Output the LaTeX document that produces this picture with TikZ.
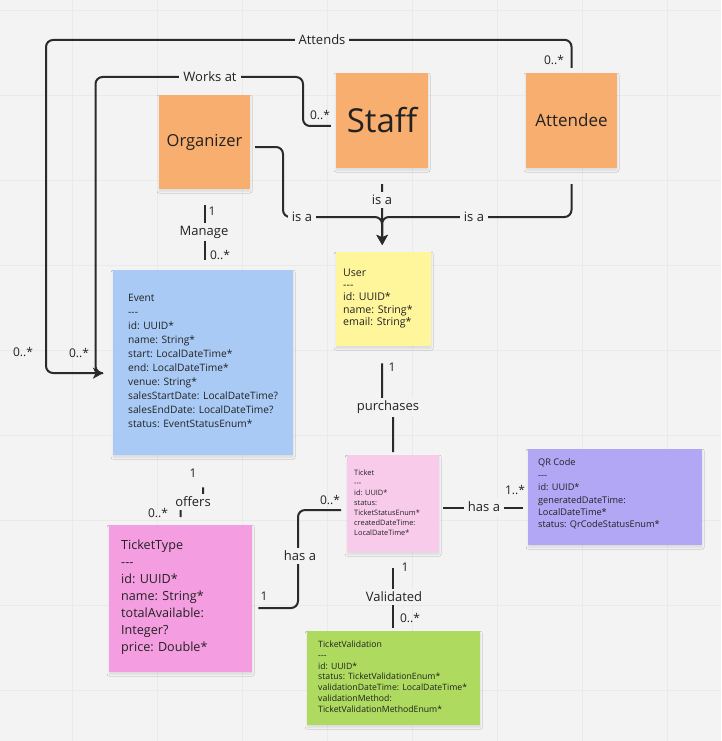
\documentclass[tikz,border=0pt]{standalone}
\usepackage{fontspec}
\setmainfont{Open Sans}
\usetikzlibrary{calc,arrows.meta,shadows.blur}
\definecolor{bg}{HTML}{F3F3F3}
\definecolor{gridc}{HTML}{EAEAEA}
\definecolor{linec}{HTML}{2A2A2A}
\definecolor{txt}{HTML}{222222}
\definecolor{orangec}{HTML}{F7AE6F}
\definecolor{bluec}{HTML}{AACAF6}
\definecolor{yellowc}{HTML}{FFF69C}
\definecolor{lpinkc}{HTML}{F9CBEB}
\definecolor{violetc}{HTML}{B2A7F5}
\definecolor{pinkc}{HTML}{F49DE0}
\definecolor{greenc}{HTML}{ADDA5F}
\begin{document}
\begin{tikzpicture}[x=1pt,y=-1pt,
  conn/.style={draw=linec, line width=2pt, rounded corners=7pt, line join=round},
  arr/.style={-{Stealth[length=10pt,width=11pt,inset=2.5pt]}},
  lbl/.style={fill=bg, text=txt, inner xsep=4pt, inner ysep=3pt, font=\fontsize{13}{15}\selectfont},
  mult/.style={text=txt, inner sep=0pt, font=\fontsize{12}{14}\selectfont},
  sticky/.style={rectangle, inner sep=0pt, draw=none, text=txt, align=center,
    blur shadow={shadow xshift=0pt, shadow yshift=-2pt, shadow blur radius=2pt, shadow opacity=10}},
  cls/.style={text=txt, inner sep=0pt, align=left, anchor=west},
]
\useasboundingbox (0,0) rectangle (721,741);
\fill[bg] (0,0) rectangle (721,741);
\foreach \gx in {72,157,242,327,412,497,582,667}
  \draw[gridc, line width=0.6pt] (\gx,0) -- (\gx,741);
\foreach \gy in {10,95,180,265,350,435,520,605,690}
  \draw[gridc, line width=0.6pt] (0,\gy) -- (721,\gy);

% sticky notes
\node[sticky, fill=orangec, minimum width=91pt, minimum height=94pt, font=\fontsize{16.5}{20}\selectfont] (org) at (204.5,142) {Organizer};
\node[sticky, fill=orangec, minimum width=92pt, minimum height=95pt, font=\fontsize{33}{36}\selectfont] (staff) at (382,120.5) {Staff};
\node[sticky, fill=orangec, minimum width=91pt, minimum height=95pt, font=\fontsize{17}{20}\selectfont] (att) at (571.5,120.5) {Attendee};

\node[sticky, fill=bluec, minimum width=180pt, minimum height=185pt, anchor=north west] (event) at (113,270) {};
\node[sticky, fill=yellowc, minimum width=95pt, minimum height=94pt, anchor=north west] (user) at (336,252) {};
\node[sticky, fill=lpinkc, minimum width=92pt, minimum height=97pt, anchor=north west] (ticket) at (347,455) {};
\node[sticky, fill=violetc, minimum width=174pt, minimum height=96pt, anchor=north west] (qr) at (528,449) {};
\node[sticky, fill=pinkc, minimum width=143pt, minimum height=147pt, anchor=north west] (ttype) at (109,525) {};
\node[sticky, fill=greenc, minimum width=173pt, minimum height=94pt, anchor=north west] (tv) at (307,631) {};

\node[cls, font=\fontsize{10.2}{14}\selectfont] (eventt) at ($(event.west)+(15,-2)$)
 {Event\\-{}-{}-\\id: UUID*\\name: String*\\start: LocalDateTime*\\end: LocalDateTime*\\venue: String*\\salesStartDate: LocalDateTime?\\salesEndDate: LocalDateTime?\\status: EventStatusEnum*};
\node[cls, font=\fontsize{10.6}{12.3}\selectfont] (usert) at ($(user.west)+(7,-1)$)
 {User\\-{}-{}-\\id: UUID*\\name: String*\\email: String*};
\node[cls, font=\fontsize{7.4}{10}\selectfont] (tickett) at ($(ticket.west)+(7,-1)$)
 {Ticket\\-{}-{}-\\id: UUID*\\status:\\TicketStatusEnum*\\createdDateTime:\\LocalDateTime*};
\node[cls, font=\fontsize{9.2}{12.4}\selectfont] (qrt) at ($(qr.west)+(10,-3)$)
 {QR Code\\-{}-{}-\\id: UUID*\\generatedDateTime:\\LocalDateTime*\\status: QrCodeStatusEnum*};
\node[cls, font=\fontsize{12.6}{17}\selectfont] (ttypet) at ($(ttype.west)+(12,-1.5)$)
 {TicketType\\-{}-{}-\\id: UUID*\\name: String*\\totalAvailable:\\Integer?\\price: Double*};
\node[cls, font=\fontsize{8.7}{10.8}\selectfont] (tvt) at ($(tv.west)+(11,-1.5)$)
 {TicketValidation\\-{}-{}-\\id: UUID*\\status: TicketValidationEnum*\\validationDateTime: LocalDateTime*\\validationMethod:\\TicketValidationMethodEnum*};

% connectors
\draw[conn,arr] ($(att.north)+(0,-5)$) -- ($(att.north)+(0,-33)$) -- (46,40) -- (46,373) -- ($(event.west)+(-10,10.5)$);
\draw[conn] ($(staff.west)+(-5,5.5)$) -- (303,126) -- (303,77) -- (95.5,77) -- (95.5,373) -- ($(event.west)+(-12,10.5)$);

\draw[conn,arr] ($(org.east)+(5,5)$) -- (283,147) -- (283,217) -- (382,217) -- ($(user.north)+(-1.5,-7)$);
\draw[conn,arr] ($(att.south)+(0,16)$) -- (571.5,217) -- (382,217) -- ($(user.north)+(-1.5,-7)$);
\draw[conn,arr] ($(staff.south)+(0,16)$) -- ($(user.north)+(-1.5,-7)$);

\draw[conn] ($(org.south)+(0,16)$) -- ($(org.south|-event.north)+(0,-10)$);
\draw[conn] ($(user.south)+(-1.5,17)$) -- (382,407) -| ($(ticket.north)+(0,-3)$);
\draw[conn] ($(event.south)+(0,32)$) -- (203,502) -| ($(ttype.north)+(0,-8)$);
\draw[conn] ($(ttype.east)+(6,9.5)$) -- (298,608) -- (298,510) -- ($(ticket.west)+(-6,6.5)$);
\draw[conn] ($(ticket.east)+(4,4.5)$) -- ($(qr.west)+(-5,11)$);
\draw[conn] ($(ticket.south)+(0,16)$) -- ($(ticket.south|-tv.north)+(0,-3)$);

% connector labels
\node[lbl] (lattends) at (322,40) {Attends};
\node[lbl] (lworks) at (210,77) {Works at};
\node[lbl] (lisa1) at (302,217) {is a};
\node[lbl] (lisa2) at (474,217) {is a};
\node[lbl] (lisa3) at (382,200) {is a};
\node[lbl] (lmanage) at (204,232) {Manage};
\node[lbl] (lpurch) at (388,407) {purchases};
\node[lbl] (loffers) at (193,502) {offers};
\node[lbl] (lhas1) at (300,556) {has a};
\node[lbl] (lhas2) at (484,507) {has a};
\node[lbl] (lvalid) at (394,597) {Validated};

% multiplicities
\node[mult] (m1) at (554,60) {0..*};
\node[mult] (m2) at (320,115) {0..*};
\node[mult] (m3) at (23,352) {0..*};
\node[mult] (m4) at (79,353) {0..*};
\node[mult] (m5) at (212,211) {1};
\node[mult] (m6) at (220,255) {0..*};
\node[mult] (m7) at (392,367) {1};
\node[mult] (m8) at (193,473) {1};
\node[mult] (m9) at (158,513) {0..*};
\node[mult] (m10) at (264,596) {1};
\node[mult] (m11) at (330,500) {0..*};
\node[mult] (m12) at (515,490) {1..*};
\node[mult] (m13) at (405,567) {1};
\node[mult] (m14) at (410,618) {0..*};
\end{tikzpicture}
\end{document}
